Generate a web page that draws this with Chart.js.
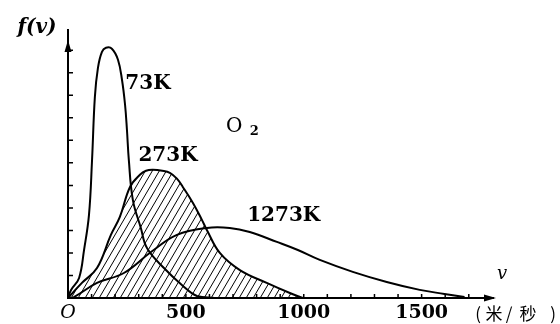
<!DOCTYPE html>
<html>
<head>
<meta charset="utf-8">
<script src="https://cdn.jsdelivr.net/npm/chart.js@4.4.1/dist/chart.umd.min.js"></script>
<style>
  html, body { margin: 0; padding: 0; background: #fff; }
  #wrap { width: 560px; height: 324px; position: relative; }
</style>
</head>
<body>
<div id="wrap"><canvas id="c"></canvas></div>
<script>
// Maxwell speed distribution of O2 (v in m/s, f(v) in y-tick units)
const v73  = [0, 13, 47, 68, 89, 102, 114, 127, 144, 161, 186, 212, 229, 242, 250, 258, 275, 309, 335, 407, 483, 547, 623];
const f73  = [0, 0.36, 0.89, 2.13, 3.69, 6.13, 8.93, 10.22, 10.93, 11.11, 11.07, 10.58, 9.69, 8.58, 7.47, 6.13, 4.36, 3.11, 2.22, 1.33, 0.58, 0.09, 0];

const v273 = [0, 59, 123, 182, 220, 263, 305, 331, 360, 400, 432, 462, 487, 530, 568, 589, 644, 729, 843, 941, 996];
const f273 = [0, 0.67, 1.33, 2.8, 3.6, 4.93, 5.47, 5.65, 5.69, 5.65, 5.56, 5.3, 4.93, 4.22, 3.47, 3.02, 2.0, 1.24, 0.67, 0.22, 0];

const v1273 = [0, 25, 123, 237, 352, 462, 589, 686, 771, 886, 975, 1068, 1208, 1352, 1492, 1597, 1682];
const f1273 = [0, 0.04, 0.67, 1.11, 2.04, 2.8, 3.11, 3.11, 2.93, 2.49, 2.13, 1.69, 1.16, 0.71, 0.36, 0.18, 0.04];

const xTickValues = [0, 500, 1000, 1500];
const xTickLabels = ['O', '500', '1000', '1500'];
const curveNames  = ['73K', '273K', '1273K'];

const SERIF = '"DejaVu Serif", "Liberation Serif", serif';
const toPoints = (xs, ys) => xs.map((x, i) => ({ x, y: ys[i] }));

// diagonal hatching used under the 273K curve
const makeHatch = () => {
  const c = document.createElement('canvas');
  c.width = 7; c.height = 12;
  const g = c.getContext('2d');
  g.strokeStyle = '#000';
  g.lineWidth = 1;
  for (const dx of [-7, 0, 7]) {
    g.beginPath();
    g.moveTo(dx - 7, 24); g.lineTo(dx + 14, -12);
    g.stroke();
  }
  return g.createPattern(c, 'repeat');
};

const curve = (label, data, extra = {}) => ({
  label, data,
  borderColor: '#000',
  borderWidth: 2,
  pointRadius: 0,
  tension: 0.4,
  fill: false,
  ...extra,
});

// inward ticks, arrow heads and the free text on the figure
const decorations = {
  id: 'decorations',
  afterDraw(chart) {
    const { ctx, chartArea: a, scales: { x, y } } = chart;
    ctx.save();
    ctx.fillStyle = '#000';
    ctx.strokeStyle = '#000';
    ctx.lineWidth = 1.5;

    ctx.beginPath();
    for (let v = 100; v < x.max; v += 100) {
      const px = x.getPixelForValue(v);
      ctx.moveTo(px, a.bottom); ctx.lineTo(px, a.bottom - 4);
    }
    for (let f = 1; f < y.max; f += 1) {
      const py = y.getPixelForValue(f);
      ctx.moveTo(a.left, py); ctx.lineTo(a.left + 5, py);
    }
    ctx.stroke();

    // arrow heads
    ctx.beginPath();
    ctx.moveTo(a.left, a.top + 10); ctx.lineTo(a.left - 3.5, a.top + 22); ctx.lineTo(a.left + 3.5, a.top + 22);
    ctx.closePath(); ctx.fill();
    ctx.beginPath();
    ctx.moveTo(a.right + 6, a.bottom); ctx.lineTo(a.right - 6, a.bottom - 3.5); ctx.lineTo(a.right - 6, a.bottom + 3.5);
    ctx.closePath(); ctx.fill();
    ctx.lineWidth = 2;
    ctx.beginPath(); ctx.moveTo(a.right, a.bottom); ctx.lineTo(a.right + 4, a.bottom); ctx.stroke();

    ctx.textAlign = 'center';
    ctx.textBaseline = 'middle';

    // curve names
    ctx.font = `bold 20px ${SERIF}`;
    const namePos = [[339, 9.5], [424, 6.3], [915, 3.64]];
    curveNames.forEach((n, i) => {
      ctx.fillText(n, x.getPixelForValue(namePos[i][0]), y.getPixelForValue(namePos[i][1]));
    });

    // O2
    ctx.font = `20px ${SERIF}`;
    ctx.fillText('O', x.getPixelForValue(705), y.getPixelForValue(7.6));
    ctx.font = `bold 13px ${SERIF}`;
    ctx.fillText('2', x.getPixelForValue(790), y.getPixelForValue(7.4));

    // axis names
    ctx.font = `italic bold 20px ${SERIF}`;
    ctx.fillText('f(v)', 37, 28);
    ctx.font = `italic 18px ${SERIF}`;
    ctx.fillText('v', 502, 274);

    ctx.font = '17px "Noto Sans CJK SC", sans-serif';
    const unit = [['(', 478], ['米', 494], ['/', 509], ['秒', 528], [')', 553]];
    unit.forEach(([ch, px]) => ctx.fillText(ch, px, 314));
    ctx.restore();
  },
};

new Chart(document.getElementById('c'), {
  type: 'line',
  data: {
    datasets: [
      curve(curveNames[1], toPoints(v273, f273), { fill: 'origin', backgroundColor: makeHatch() }),
      curve(curveNames[0], toPoints(v73, f73)),
      curve(curveNames[2], toPoints(v1273, f1273)),
    ],
  },
  options: {
    responsive: true,
    maintainAspectRatio: false,
    animation: false,
    layout: { padding: { left: 68, right: 70, top: 30, bottom: 0 } },
    plugins: { legend: { display: false }, tooltip: { enabled: false } },
    scales: {
      x: {
        type: 'linear',
        min: 0,
        max: 1790,
        afterBuildTicks: (scale) => { scale.ticks = xTickValues.map((value) => ({ value })); },
        afterFit: (scale) => { scale.height = 26; },
        grid: { drawOnChartArea: false, drawTicks: false },
        border: { display: true, color: '#000', width: 2 },
        ticks: {
          autoSkip: false,
          maxRotation: 0,
          padding: 4,
          color: '#000',
          font: (ctx) => ({ family: SERIF, size: 19, weight: ctx.index === 0 ? 'normal' : 'bold', style: ctx.index === 0 ? 'italic' : 'normal' }),
          callback: (val) => xTickLabels[xTickValues.indexOf(val)],
        },
      },
      y: {
        min: 0,
        max: 11.9,
        afterFit: (scale) => { scale.width = 0; },
        grid: { drawOnChartArea: false, drawTicks: false },
        border: { display: true, color: '#000', width: 2 },
        ticks: { display: false },
      },
    },
  },
  plugins: [decorations],
});
</script>
</body>
</html>
